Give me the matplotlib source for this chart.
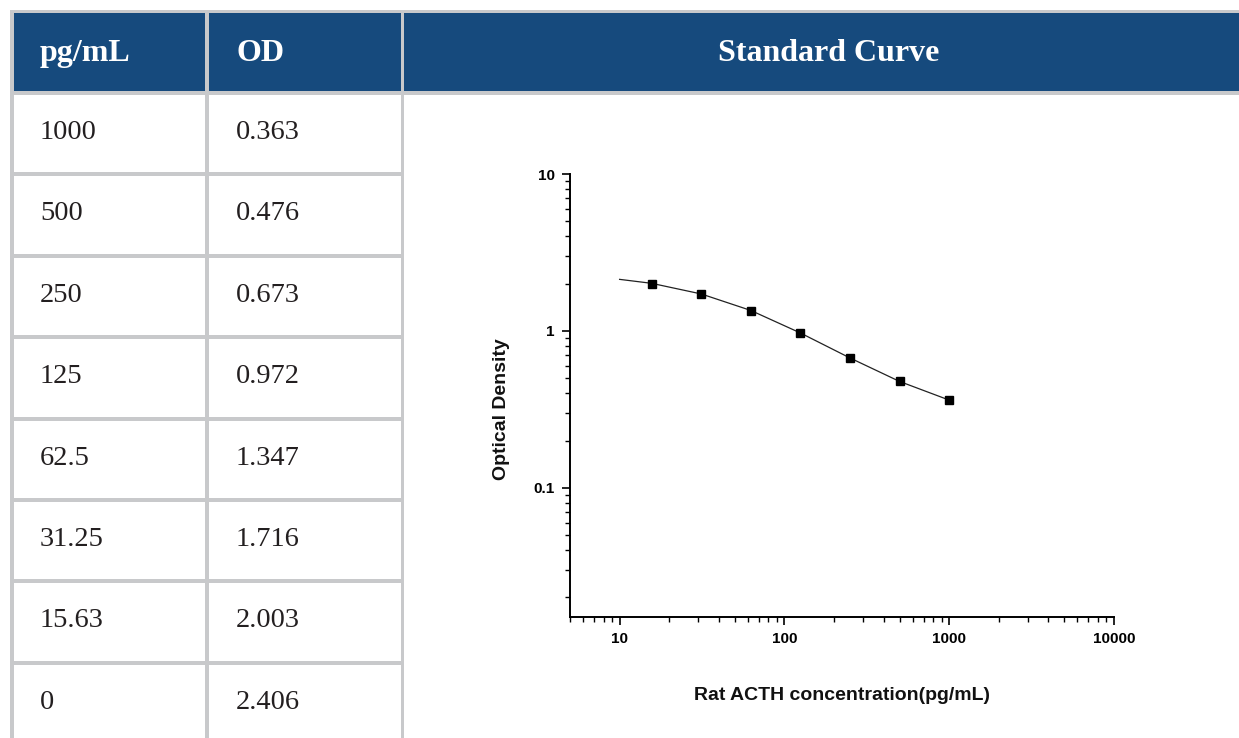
from matplotlib import pyplot as plt
from matplotlib.patches import Rectangle
from matplotlib.ticker import LogLocator, FixedLocator, FixedFormatter, NullFormatter

# table values
conc_labels = ['1000', '500', '250', '125', '62.5', '31.25', '15.63', '0']
od_labels = ['0.363', '0.476', '0.673', '0.972', '1.347', '1.716', '2.003', '2.406']

# standard points on the curve (0 is left out, log axis)
conc = [1000, 500, 250, 125, 62.5, 31.25, 15.63]
od = [0.363, 0.476, 0.673, 0.972, 1.347, 1.716, 2.003]

# fitted line
fit_x = [10, 15.63, 31.25, 62.5, 125, 250, 500, 1000]
fit_y = [2.13, 2.01, 1.72, 1.35, 0.97, 0.672, 0.476, 0.362]

W, H = 1239, 738
blue = '#164a7d'
gray = '#c8c9cb'

fig = plt.figure(figsize=(W / 100, H / 100), dpi=100)
bg = fig.add_axes([0, 0, 1, 1])
bg.set_xlim(0, W)
bg.set_ylim(H, 0)
bg.axis('off')

# grid lines of the table = gray under everything
bg.add_patch(Rectangle((10, 10), W - 10, H - 10, color=gray, lw=0))

cols = [(14, 205), (209, 401), (404, W)]
for x0, x1 in cols:
    bg.add_patch(Rectangle((x0, 13), x1 - x0, 91 - 13, color=blue, lw=0))

pitch = 81.4
for i in range(len(conc_labels)):
    top = 91 + pitch * i + 4
    bot = 91 + pitch * (i + 1)
    for x0, x1 in cols[:2]:
        bg.add_patch(Rectangle((x0, top), x1 - x0, bot - top, color='white', lw=0))
bg.add_patch(Rectangle((404, 95), W - 404, H - 95, color='white', lw=0))

hfont = dict(family='Liberation Serif', fontweight='bold', fontsize=23, color='white', va='baseline')
bg.text(40, 61, 'pg/mL', ha='left', **hfont)
bg.text(236, 61, 'OD', ha='left', **hfont)
bg.text(829, 61, 'Standard Curve', ha='center', **hfont)

for i in range(len(conc_labels)):
    base = 139 + pitch * i
    bg.text(40, base, conc_labels[i], family='Liberation Serif', fontsize=20.5,
            color='#231f20', va='baseline', ha='left')
    bg.text(236, base, od_labels[i], family='Liberation Serif', fontsize=20.5,
            color='#231f20', va='baseline', ha='left')

# the standard curve
ax = fig.add_axes([570 / W, (H - 617) / H, (1114 - 570) / W, (617 - 174) / H])
ax.set_facecolor('none')
ax.set_xscale('log')
ax.set_yscale('log')
ax.set_xlim(5, 10000)
ax.set_ylim(0.015, 10)

ax.plot(fit_x, fit_y, color='#222222', lw=0.9)
ax.plot(conc, od, ls='none', marker='s', ms=5.5, color='black')

for s in ['top', 'right']:
    ax.spines[s].set_visible(False)
for s in ['left', 'bottom']:
    ax.spines[s].set_linewidth(1.4)

ax.xaxis.set_major_locator(FixedLocator([10, 100, 1000, 10000]))
ax.xaxis.set_major_formatter(FixedFormatter(['10', '100', '1000', '10000']))
ax.yaxis.set_major_locator(FixedLocator([0.1, 1, 10]))
ax.yaxis.set_major_formatter(FixedFormatter(['0.1', '1', '10']))
ax.xaxis.set_minor_locator(LogLocator(base=10, subs=range(2, 10), numticks=20))
ax.yaxis.set_minor_locator(LogLocator(base=10, subs=range(2, 10), numticks=20))
ax.xaxis.set_minor_formatter(NullFormatter())
ax.yaxis.set_minor_formatter(NullFormatter())

ax.tick_params(which='major', direction='out', length=6, width=1.2, pad=5, labelsize=11)
ax.tick_params(which='minor', direction='out', length=3.5, width=1.0)
for lab in ax.get_xticklabels() + ax.get_yticklabels():
    lab.set_fontfamily('Liberation Sans')
    lab.set_fontweight('bold')

bg.text(842, 695, 'Rat ACTH concentration(pg/mL)', family='Liberation Sans', fontweight='bold',
        fontsize=14, ha='center', va='center', color='#111111')
bg.text(501, 409, 'Optical Density', family='Liberation Sans', fontweight='bold',
        fontsize=14, ha='center', va='center', rotation=90, color='#111111')

fig.savefig('out.png', dpi=100)
